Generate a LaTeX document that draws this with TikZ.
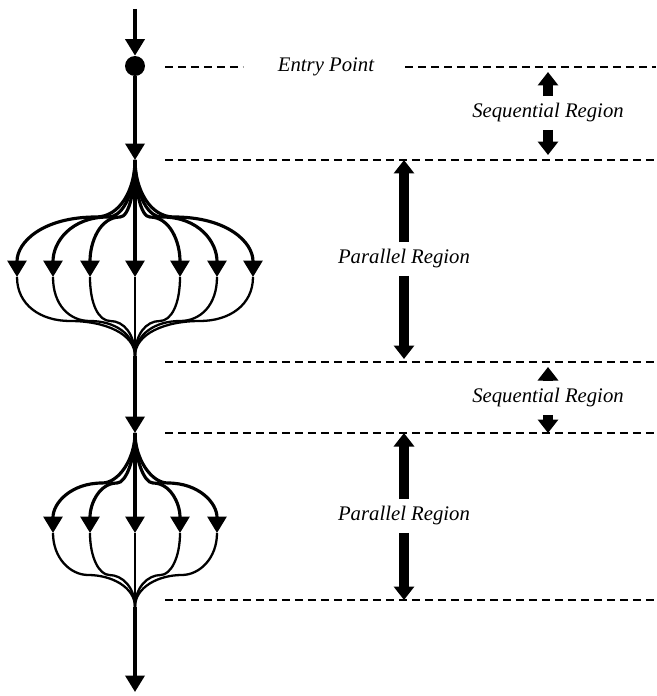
\documentclass[tikz,border=0pt]{standalone}
\usepackage{fontspec}
\setmainfont{Liberation Serif}
\usetikzlibrary{arrows.meta,calc}
\tikzset{
  spine/.style={line width=2.1pt, -{Triangle[width=0.38cm,length=0.33cm]}},
  branch/.style={line width=1.8pt, -{Triangle[width=0.38cm,length=0.33cm]}},
  merge/.style={line width=1.3pt},
  guide/.style={line width=0.75pt, dash pattern=on 0.16cm off 0.1cm},
  region/.style={font=\fontsize{11.8}{14}\selectfont\itshape, inner xsep=0pt, inner ysep=4pt},
  span/.style={line width=0.19cm, -{Triangle[width=0.4cm,length=0.27cm]}},
  dot/.style={circle, fill, inner sep=0pt, minimum size=0.4cm},
}

\begin{document}
\begin{tikzpicture}[x=0.02cm, y=-0.02cm]
  \useasboundingbox (0,0) rectangle (656,696);

  % ---- main thread --------------------------------------------------------
  \coordinate (in) at (135,9);
  \node[dot] (entry) at (135,66) {};
  \coordinate (fork1) at (135,160);
  \coordinate (join1) at (135,356);
  \coordinate (fork2) at (135,433);
  \coordinate (join2) at (135,607);
  \coordinate (out) at (135,692);

  \draw[spine] (in) -- (entry.north);
  \draw[spine] (entry) -- (fork1);
  \draw[spine] (join1) -- (fork2);
  \draw[spine] (join2) -- (out);

  % ---- first team: seven threads -----------------------------------------
  \foreach \dx [count=\i] in {-118,-82,-45,0,45,82,118} {
    \coordinate (a\i) at ($(fork1)+(\dx,117)$);
    \draw[branch] (fork1) .. controls +(0,30) and +(-0.2*\dx,0) .. ($(fork1)+(0.33*\dx,57)$)
      .. controls +(0.45*\dx,0) and +(0,-35) .. (a\i);
    \draw[merge] (a\i) .. controls +(0,28) and +(0.25*\dx,0) .. ($(fork1)+(0.55*\dx,161)$)
      .. controls +(-0.3*\dx,0) and +(0,-22) .. (join1);
  }

  % ---- second team: five threads -----------------------------------------
  \foreach \dx [count=\i] in {-82,-45,0,45,82} {
    \coordinate (b\i) at ($(fork2)+(\dx,100)$);
    \draw[branch] (fork2) .. controls +(0,26) and +(-0.2*\dx,0) .. ($(fork2)+(0.4*\dx,50)$)
      .. controls +(0.38*\dx,0) and +(0,-30) .. (b\i);
    \draw[merge] (b\i) .. controls +(0,25) and +(0.22*\dx,0) .. ($(fork2)+(0.57*\dx,142)$)
      .. controls +(-0.28*\dx,0) and +(0,-20) .. (join2);
  }

  % ---- region boundaries ---------------------------------------------------
  \node[region] (entryl) at (326,67) {Entry Point};
  \draw[guide] (165,67) coordinate (g1) -- (243,67);
  \draw[guide] (405,67) -- (656,67);
  \draw[guide] (165,160) coordinate (g2) -- (656,160);
  \draw[guide] (165,362) coordinate (g3) -- (656,362);
  \draw[guide] (165,433) coordinate (g4) -- (656,433);
  \draw[guide] (165,600) coordinate (g5) -- (656,600);

  % ---- region labels -------------------------------------------------------
  \node[region] (seq1) at (548,113) {Sequential Region};
  \draw[span, shorten >=0.1cm] (seq1.north) -- (seq1.north |- g1);
  \draw[span, shorten >=0.1cm] (seq1.south) -- (seq1.south |- g2);

  \node[region] (par1) at (404,259) {Parallel Region};
  \draw[span] (par1.north) -- (par1.north |- g2);
  \draw[span, shorten >=0.06cm] (par1.south) -- (par1.south |- g3);

  \node[region] (seq2) at (548,398) {Sequential Region};
  \draw[span, shorten >=0.1cm] (seq2.north) -- (seq2.north |- g3);
  \draw[span] (seq2.south) -- (seq2.south |- g4);

  \node[region] (par2) at (404,516) {Parallel Region};
  \draw[span] (par2.north) -- (par2.north |- g4);
  \draw[span] (par2.south) -- (par2.south |- g5);
\end{tikzpicture}
\end{document}
